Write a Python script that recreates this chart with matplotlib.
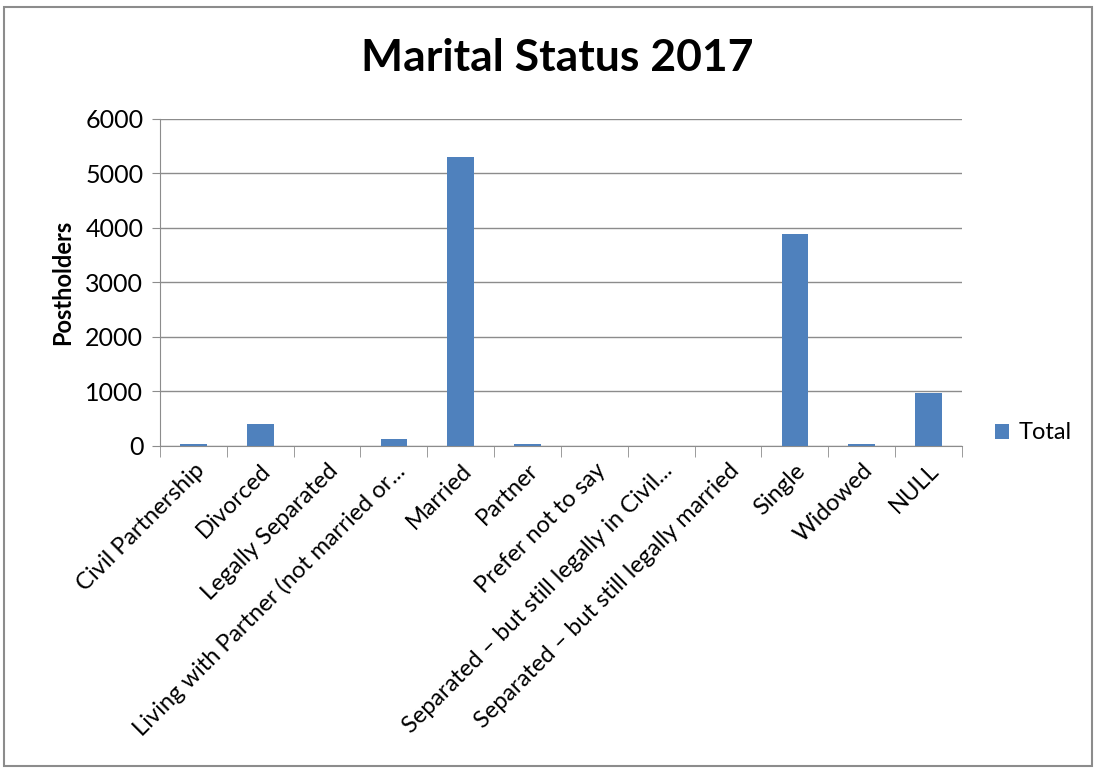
import matplotlib.pyplot as plt
from matplotlib.patches import Rectangle
import numpy as np

plt.rcParams['font.family'] = ['Lato', 'DejaVu Sans']

categories = ["Civil Partnership", "Divorced", "Legally Separated",
              "Living with Partner (not married or...", "Married", "Partner",
              "Prefer not to say", "Separated \u2013 but still legally in Civil...",
              "Separated \u2013 but still legally married", "Single", "Widowed", "NULL"]
values = [35, 400, 0, 125, 5300, 35, 0, 0, 0, 3890, 30, 975]
yticks = [0, 1000, 2000, 3000, 4000, 5000, 6000]

fig = plt.figure(figsize=(11.01, 7.72), dpi=100)
ax = fig.add_axes([0.1453, 0.4223, 0.7284, 0.4236])

x = np.arange(len(categories))
bars = ax.bar(x, values, width=0.4, color='#4f81bd', label='Total', zorder=3)

ax.set_xlim(-0.5, len(categories) - 0.5)
ax.set_ylim(0, 6000)
ax.set_yticks(yticks)
ax.set_yticklabels([str(t) for t in yticks], fontsize=18)
ax.yaxis.grid(True, color='#8c8c8c', linewidth=1)
ax.set_axisbelow(True)
for s in ['top', 'right']:
    ax.spines[s].set_visible(False)
ax.spines['left'].set_color('#8c8c8c')
ax.spines['bottom'].set_color('#8c8c8c')
ax.tick_params(axis='y', length=6, color='#8c8c8c', pad=6)

# category labels at centres, tick marks between categories
ax.set_xticks(x)
ax.set_xticklabels(categories, rotation=45, ha='right', rotation_mode='anchor', fontsize=17)
ax.tick_params(axis='x', length=0, pad=10)
ax.set_xticks(np.arange(-0.5, len(categories), 1), minor=True)
ax.tick_params(axis='x', which='minor', length=8, color='#8c8c8c', direction='out')

ax.set_ylabel('Postholders', fontsize=17, fontweight='bold', labelpad=8)
fig.text(0.506, 0.925, 'Marital Status 2017', ha='center', va='center',
         fontsize=32, fontweight='bold')

ax.legend(loc='center left', bbox_to_anchor=(1.015, 0.04), frameon=False,
          fontsize=17, handlelength=0.6, handleheight=0.6, handletextpad=0.4)

fig.patches.append(Rectangle((0.004, 0.008), 0.988, 0.983, transform=fig.transFigure,
                             fill=False, edgecolor='#8c8c8c', linewidth=1.5))

fig.savefig('out.png', dpi=100, facecolor='white')
